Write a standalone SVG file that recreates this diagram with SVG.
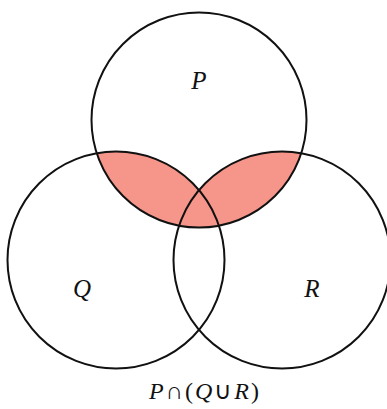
<svg xmlns="http://www.w3.org/2000/svg" width="387" height="409" viewBox="0 0 387 409">
<style>
.c{fill:none;stroke:#111;stroke-width:2}
.lbl{font-family:"Liberation Serif",serif;font-style:italic;font-size:25px;fill:#111}
.cap{font-family:"Liberation Serif",serif;font-size:24px;letter-spacing:2px;fill:#111}
.it{font-style:italic}
</style>
<defs>
<clipPath id="clipP"><circle cx="199" cy="120" r="107.5"/></clipPath>
</defs>
<rect width="387" height="409" fill="#fff"/>
<g id="shade" clip-path="url(#clipP)" fill="#F6968A">
<circle cx="116" cy="260" r="108.5"/>
<circle cx="282" cy="260" r="108.5"/>
</g>
<g id="P"><circle class="c" cx="199" cy="120" r="107.5"/><text class="lbl" x="199" y="89" text-anchor="middle">P</text></g>
<g id="Q"><circle class="c" cx="116" cy="260" r="108.5"/><text class="lbl" x="82" y="297" text-anchor="middle">Q</text></g>
<g id="R"><circle class="c" cx="282" cy="260" r="108.5"/><text class="lbl" x="312" y="297" text-anchor="middle">R</text></g>
<g id="connectors"/>
<text class="cap" x="205" y="399" text-anchor="middle"><tspan class="it">P</tspan>∩(<tspan class="it">Q</tspan>∪<tspan class="it">R</tspan>)</text>
</svg>
